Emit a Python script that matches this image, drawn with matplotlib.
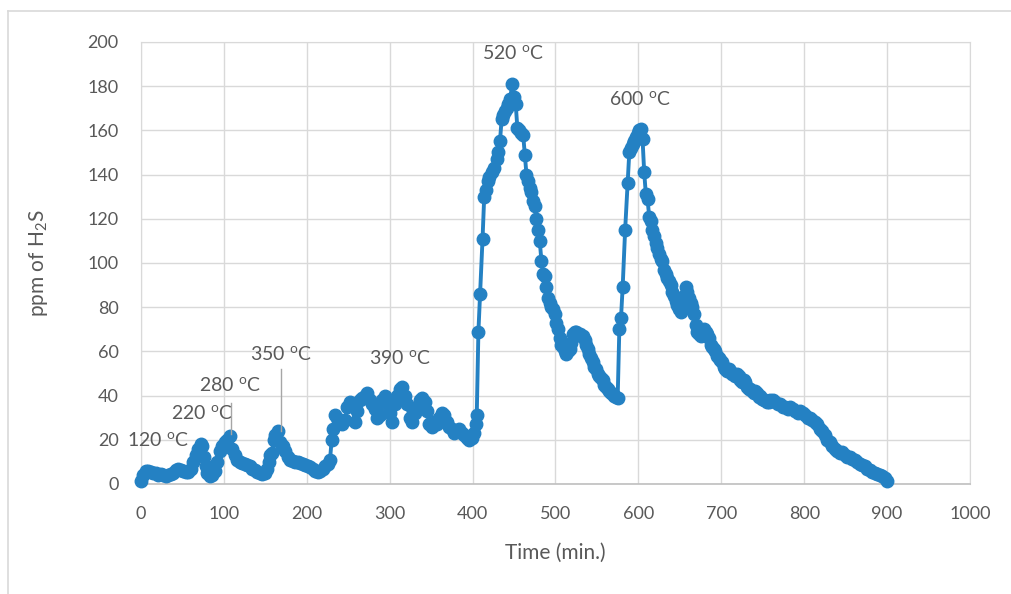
"""
H2S release during stepwise heating: ppm of H2S vs time.
Values read off the reference chart by eye.
"""

import matplotlib
matplotlib.use('Agg')
import matplotlib.pyplot as plt
from matplotlib.lines import Line2D

# time (min.) and ppm of H2S, in segments
T_LOW = [0, 3, 6, 9, 12, 15, 18, 21, 24, 27, 30, 33, 36, 39, 42, 45, 48, 51, 54,
         57, 60, 63, 66, 69, 72, 74, 76, 78, 80, 83, 86, 89, 92, 95, 98, 101,
         104, 107, 110, 113, 116, 119, 122, 125, 128, 131, 134, 137, 140, 143,
         146, 149, 152, 154, 156, 158, 160, 162, 165, 168, 171, 174, 177, 180,
         183, 186, 189, 192, 195, 198, 201, 204, 207, 210, 213, 216, 219, 222,
         225, 228]
P_LOW = [1.5, 4, 6, 6, 5.5, 5, 5, 4, 4.5, 4, 3.5, 4, 4.5, 5, 6.5, 7, 6.5, 6, 5.5,
         5.5, 7, 10, 13, 16, 18, 17, 12, 8, 5, 3.5, 4, 6, 10, 15, 17, 19,
         20, 21.5, 16, 13, 11, 10, 9.5, 9, 8.5, 8, 7, 6.5, 5.5, 5,
         4.5, 5, 7, 10, 13, 14, 20, 22, 24, 19, 17, 15, 12, 11,
         10.5, 10, 10, 9.5, 9, 8.5, 8, 7.5, 7, 6, 5.5, 6, 7, 8,
         9, 11]

T_MID = [230, 232, 234, 237, 240, 243, 246, 249, 252, 255, 258, 261, 264, 267,
         270, 273, 276, 279, 282, 285, 288, 291, 294, 297, 300, 303, 306, 309,
         312, 315, 318, 321, 324, 327, 330, 333, 336, 339, 342, 345, 348, 351,
         354, 357, 360, 363, 366, 369, 372, 375, 378, 381, 384, 387, 390, 393,
         396, 399, 402, 404]
P_MID = [20, 25, 31, 30, 28, 27, 29, 35, 37, 36, 28, 33, 38, 39,
         40, 41, 38, 36, 34, 30, 31, 38, 40, 36, 32, 28, 36, 40,
         43, 44, 40, 36, 30, 28, 32, 35, 38, 39, 37, 33, 27, 26,
         28, 27, 30, 32, 31, 28, 26, 25, 23, 24, 25, 23, 22, 21,
         20, 21, 23, 27]

T_520 = [405, 407, 409, 412, 414, 416, 418, 420, 423, 426, 429, 431, 433, 435,
         437, 439, 441, 443, 445, 448, 450, 452, 454, 456, 458, 461, 463, 465,
         467, 469, 471, 473, 475, 477, 479, 481, 483, 485, 487, 489, 491, 493,
         495, 497, 499, 501, 503, 505, 507, 509, 511, 513, 515, 517, 519, 521,
         523, 525, 527, 529, 531, 533, 535, 537, 539, 541, 543, 545, 547, 549,
         551, 553, 555, 557, 559, 561, 563, 565, 567, 569, 571, 573, 575]
P_520 = [31, 69, 86, 111, 130, 133, 137, 139, 141, 143, 147, 150, 155, 165,
         167, 169, 170, 172, 174, 181, 175, 172, 161, 160, 159, 158, 149, 140,
         137, 134, 132, 128, 126, 120, 115, 110, 101, 95, 94, 89, 84, 82,
         80, 79, 77, 73, 70, 66, 63, 62, 60, 59, 60, 61, 64, 68,
         69, 69, 68, 68, 67, 67, 65, 63, 61, 59, 57, 55, 53, 52,
         50, 49, 48, 47, 45, 44, 43, 42, 41, 40.5, 40, 39.5, 39]

T_600 = [577, 579, 581, 584, 587, 589, 591, 593, 595, 597, 599, 601, 603, 605,
         607, 609, 611, 613, 615, 617, 619, 621, 623, 625, 627, 629, 631, 633,
         635, 637, 639, 641, 643, 645, 647, 649, 651, 653, 655, 657, 659, 661,
         663, 665, 667, 669, 671, 673, 675, 677, 679, 681, 683, 685, 687, 689,
         691, 693, 695, 697, 699, 701, 703, 705, 707, 709, 711, 713, 715, 717,
         719, 721, 723, 725, 727, 729, 731, 733, 735, 737, 739, 741, 743, 745,
         747, 749, 751, 753, 755, 757, 759, 762, 765, 768, 771, 774, 777, 780,
         783, 786, 789, 792, 795, 798, 801, 804, 807, 810, 813, 816, 819, 822,
         825, 828, 831, 834, 837, 840, 843, 846, 849, 852, 855, 858, 861, 864,
         867, 870, 873, 876, 879, 882, 885, 888, 891, 894, 897, 900]
P_600 = [70, 75, 89, 115, 136, 150, 152, 154, 155, 157, 159, 160, 160.5, 156,
         141, 131, 129, 121, 119, 115, 112, 109, 107, 104, 102, 101, 97, 95,
         93, 92, 90, 87, 85, 83, 81, 79, 78, 80, 85, 89, 87, 84,
         82, 80, 77, 72, 69, 68, 67, 68, 70, 69, 68, 66, 63, 62,
         61, 60, 58, 57, 56, 55, 53, 52, 51, 52, 51, 50, 50, 49,
         50, 49, 47, 46, 47, 46, 44, 43, 43, 42, 41, 42, 41, 39.5,
         40, 38.5, 38, 38, 37, 37, 38, 38, 37, 36, 36, 35, 35, 34,
         35, 34, 33, 32, 33, 32, 31, 30, 30, 29, 28, 27, 25, 24,
         22, 20, 19, 17, 16, 15, 14, 14.5, 13, 12, 12, 11.5, 11, 10,
         9, 8.5, 8, 7, 6.5, 5.5, 5, 4.5, 4, 3.5, 2.5, 1.5]

time_min = T_LOW + T_MID + T_520 + T_600
ppm_h2s = P_LOW + P_MID + P_520 + P_600

# temperature labels: text, label x/y, optional leader line (x, y_top, y_bottom)
TEMP_TEXT = ['120', '220', '280', '350', '390', '520', '600']
TEMP_X = [20, 74, 107, 169, 312, 449, 602]
TEMP_Y = [20, 32, 45, 59, 57, 195, 174]
LEADERS = [(108.5, 36.5, 22.5), (169, 52, 24)]

BLUE = '#2481C3'
GRAY_TXT = '#595959'
GRID = '#D9D9D9'

plt.rcParams.update({
    'font.family': ['Lato', 'DejaVu Sans'],
    'mathtext.fontset': 'custom',
    'mathtext.rm': 'Lato',
    'mathtext.it': 'Lato:italic',
})

fig = plt.figure(figsize=(10.12, 5.94), dpi=100)
ax = fig.add_axes([141 / 1012, 1 - 484 / 594, (970 - 141) / 1012, (484 - 42) / 594])

ax.plot(time_min, ppm_h2s, color=BLUE, lw=2.8, marker='o', ms=9,
        mec=BLUE, mfc=BLUE, clip_on=False, zorder=3)

for txt, tx, ty in zip(TEMP_TEXT, TEMP_X, TEMP_Y):
    ax.text(tx, ty, txt + r' $^{\mathrm{o}}$C', ha='center', va='center',
            fontsize=14, color=GRAY_TXT, zorder=4)
for lx, y0, y1 in LEADERS:
    ax.plot([lx, lx], [y0, y1], color='#A6A6A6', lw=1, zorder=4)

ax.set_xlim(0, 1000)
ax.set_ylim(0, 200)
ax.set_xticks(range(0, 1001, 100))
ax.set_yticks(range(0, 201, 20))
ax.grid(True, color=GRID, lw=1)
ax.set_axisbelow(True)
for side in ['left', 'right', 'top']:
    ax.spines[side].set_color(GRID)
ax.spines['bottom'].set_color('#BFBFBF')
ax.spines['bottom'].set_linewidth(1.2)
ax.tick_params(length=0, labelsize=13, labelcolor=GRAY_TXT, pad=16)

ax.set_xlabel('Time (min.)', fontsize=15, color=GRAY_TXT, labelpad=15)
ax.set_ylabel('ppm of H$_2$S', fontsize=15, color=GRAY_TXT, labelpad=27)

# chart-area frame (only top and left edges visible in the crop)
fig.add_artist(Line2D([8 / 1012, 1], [1 - 11 / 594, 1 - 11 / 594], color=GRID, lw=1.2))
fig.add_artist(Line2D([8 / 1012, 8 / 1012], [0, 1 - 11 / 594], color=GRID, lw=1.2))

fig.savefig('out.png', dpi=100)
plt.close(fig)
